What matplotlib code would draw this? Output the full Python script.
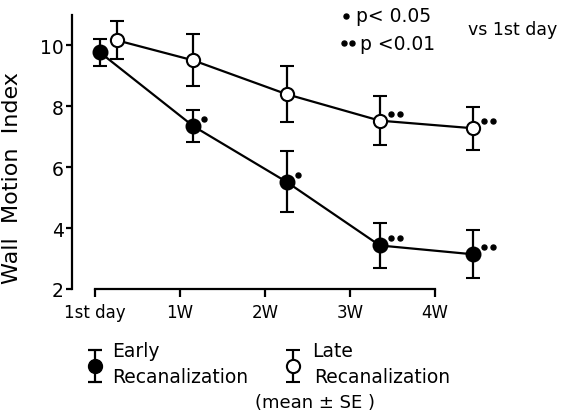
import matplotlib.pyplot as plt
import matplotlib.transforms as mtransforms
import numpy as np

# values (Wall Motion Index, mean +- SE)
periods = ['1st day', '1W', '2W', '3W', '4W']
early_mean = [9.77, 7.35, 5.52, 3.43, 3.14]
early_se = [0.45, 0.52, 1.00, 0.74, 0.79]
late_mean = [10.17, 9.51, 8.40, 7.53, 7.28]
late_se = [0.63, 0.85, 0.93, 0.81, 0.71]
early_sig = [0, 1, 1, 2, 2]   # number of dots (1: p<0.05, 2: p<0.01)
late_sig = [0, 0, 0, 2, 2]

plt.rcParams['font.family'] = 'DejaVu Sans'

fig = plt.figure(figsize=(5.69, 4.14), dpi=100)
ax = fig.add_axes([72 / 569, 124 / 414, 429 / 569, 274 / 414])

x = np.arange(len(periods), dtype=float)
late_x = x.copy()
late_x[0] += 0.18  # open circle drawn a bit to the right on day 1

eb = dict(capsize=4.7, elinewidth=1.6, capthick=1.6, lw=1.6, color='black',
          markeredgewidth=1.5, clip_on=False)
ax.errorbar(late_x, late_mean, yerr=late_se, fmt='-o', ms=9.5,
            markerfacecolor='white', markeredgecolor='black', zorder=3, **eb)
ax.errorbar(x, early_mean, yerr=early_se, fmt='-o', ms=10,
            markerfacecolor='black', markeredgecolor='black', zorder=4, **eb)


def sig_dots(axis, xs, ys, counts, dx=11, dy=7):
    for xi, yi, n in zip(xs, ys, counts):
        for k in range(n):
            tr = mtransforms.offset_copy(axis.transData, fig=fig,
                                         x=dx + 9 * k, y=dy, units='dots')
            axis.plot([xi], [yi], 'o', ms=3.6, color='black', transform=tr,
                      clip_on=False)


sig_dots(ax, x, early_mean, early_sig)
sig_dots(ax, late_x, late_mean, late_sig)

ax.set_xlim(-0.30, 4.3)
ax.set_ylim(2, 11)
tick_pos = (np.arange(len(periods)) * 85 - 5) / 93.3
ax.set_xticks(tick_pos)
ax.set_xticklabels(periods, fontsize=12)
ax.set_yticks([2, 4, 6, 8, 10])
ax.tick_params(axis='y', labelsize=13.5, length=4, width=1.6, pad=2)
ax.tick_params(axis='x', length=6, width=1.6, pad=4)
for side in ['top', 'right']:
    ax.spines[side].set_visible(False)
ax.spines['left'].set_linewidth(1.6)
ax.spines['bottom'].set_linewidth(1.6)
ax.spines['bottom'].set_bounds(tick_pos[0], tick_pos[-1])
ax.spines['left'].set_bounds(2, 11)
ax.patch.set_visible(False)

ax.set_ylabel('Wall  Motion  Index', fontsize=16)
ax.yaxis.set_label_coords(-0.117, 0.41)

# overlay in pixel coordinates for the keys
ov = fig.add_axes([0, 0, 1, 1])
ov.set_xlim(0, 569)
ov.set_ylim(414, 0)
ov.axis('off')

ov.plot([346], [17], 'o', ms=3.6, color='black')
ov.text(356, 16, 'p< 0.05', fontsize=13.5, va='center')
ov.plot([344, 352], [44, 44], 'o', ms=3.6, color='black', ls='none')
ov.text(360, 44, 'p <0.01', fontsize=13.5, va='center')
ov.text(468, 30, 'vs 1st day', fontsize=12.5, va='center')

ov.errorbar([95], [367], yerr=[16], fmt='o', ms=10, color='black',
            markerfacecolor='black', capsize=4.7, elinewidth=1.6, capthick=1.6)
ov.errorbar([293], [367], yerr=[16], fmt='o', ms=9.5, color='black',
            markerfacecolor='white', markeredgewidth=1.5, capsize=4.7,
            elinewidth=1.6, capthick=1.6)
ov.text(112, 352, 'Early', fontsize=13.5, va='center')
ov.text(112, 378, 'Recanalization', fontsize=13.5, va='center')
ov.text(312, 352, 'Late', fontsize=13.5, va='center')
ov.text(314, 378, 'Recanalization', fontsize=13.5, va='center')
ov.text(255, 403, '(mean ± SE )', fontsize=13, va='center')

fig.savefig('out.png', dpi=100)
